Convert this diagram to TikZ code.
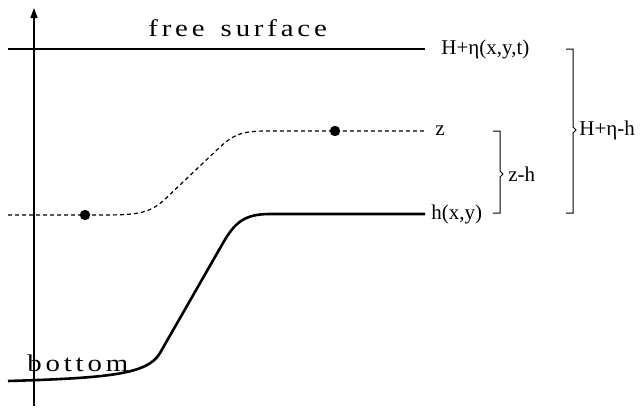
\documentclass[tikz,border=0pt]{standalone}
\usepackage{fontspec}
\setmainfont{Liberation Serif}
\newfontfamily\spacedfont[FakeStretch=1.2, LetterSpace=16]{Liberation Serif}
\usetikzlibrary{arrows.meta,positioning}
\tikzset{
  every picture/.style={draw=black, text=black},
  level/.style={line width=0.6pt},
  bed/.style={line width=1.3pt},
  layer/.style={line width=0.6pt, dash pattern=on 2pt off 1.5pt},
  lbl/.style={anchor=west, inner sep=0pt, font=\fontsize{10.5}{12}\selectfont},
  wordlbl/.style={anchor=base west, inner sep=0pt, font=\fontsize{12}{14}\spacedfont},
  bracket/.style={line width=0.5pt},
}

\begin{document}
\begin{tikzpicture}[x=0.5pt, y=-0.5pt]
\useasboundingbox (0,0) rectangle (644,408);
% Vertical axis
\coordinate (axbot) at (34,406);
\coordinate (axtop) at (34,8);
\draw[line width=0.6pt, -{Triangle[length=5pt,width=3.5pt]}] (axbot) -- (axtop);
% Free surface
\coordinate (fsl) at (8,49);
\coordinate (fsr) at (425,49);
\draw[level] (fsl) -- (fsr);
\node[wordlbl] (fstxt) at (148,36) {free\hspace{2.5pt} surface};
\node[lbl, right=8pt of fsr] (fslbl) {H+η(x,y,t)};
% Dashed layer z
\coordinate (zl) at (8,215);
\coordinate (zr) at (425,131);
\draw[layer] (zl) -- (100,215) .. controls (135,215) and (148,214) .. (163,201)
  -- (220,147) .. controls (235,133) and (245,131) .. (268,131) -- (zr);
\fill (85,215) circle (2.6pt);
\fill (335,131) circle (2.6pt);
\node[lbl, right=5pt of zr] (zlbl) {z};
% Bottom
\coordinate (bl) at (8,381);
\coordinate (br) at (425,214);
\draw[bed] (bl) .. controls (110,378) and (148,374) .. (160,353)
  -- (223,243) .. controls (235,222) and (245,214) .. (270,214) -- (br);
\node[wordlbl] (bottxt) at (27,371) {bottom};
\node[lbl, right=3pt of br] (hlbl) {h(x,y)};
% Bracket z-h
\draw[bracket] (493,131) -- (500,131) -- (500,171) -- (503,174) -- (500,177) -- (500,213) -- (493,213);
\node[lbl] (zhlbl) at (508,174) {z-h};
% Bracket H+eta-h
\draw[bracket] (566,49) -- (573,49) -- (573,127) -- (576,130) -- (573,133) -- (573,213) -- (566,213);
\node[lbl] (hetalbl) at (579,130) {H+η-h};
\end{tikzpicture}
\end{document}
